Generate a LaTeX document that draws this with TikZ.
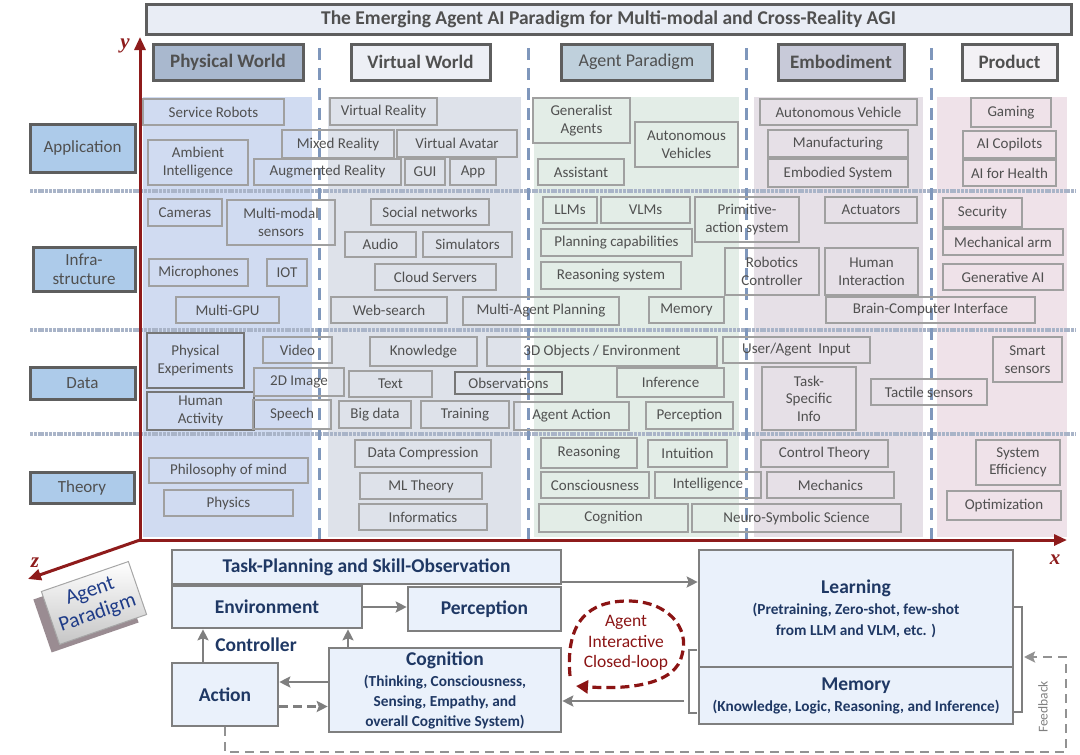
\documentclass[tikz,border=0pt]{standalone}
\usepackage{fontspec}
\setmainfont{Carlito}
\newfontfamily\axfont{Liberation Serif}
\usetikzlibrary{arrows.meta,calc}
\definecolor{axred}{HTML}{8E1B1B}
\definecolor{txtgray}{HTML}{505050}
\definecolor{navy}{HTML}{1F3864}
\definecolor{bdgray}{HTML}{5E5E5E}
\definecolor{itemgray}{HTML}{A0A0A0}
\definecolor{bgphys}{HTML}{D0DBF1}
\definecolor{bgvirt}{HTML}{DEE2EA}
\definecolor{bgagent}{HTML}{E3EDE7}
\definecolor{bgemb}{HTML}{E6E0E7}
\definecolor{bgprod}{HTML}{EFE2E9}
\definecolor{sepblue}{HTML}{7F97BC}
\definecolor{rowsep}{HTML}{A9B4C8}
\definecolor{labfill}{HTML}{ADCBEA}
\definecolor{boxfill}{HTML}{EAF1FB}
\definecolor{arrgray}{HTML}{7F7F7F}
\definecolor{loopred}{HTML}{8B1414}
\definecolor{titlefill}{HTML}{E9EDF5}
\definecolor{apblue}{HTML}{1F3C88}
\definecolor{hphysfill}{HTML}{A9B8CE}
\definecolor{hvirtfill}{HTML}{EDEFF5}
\definecolor{hagentfill}{HTML}{BFD0DC}
\definecolor{hembfill}{HTML}{C8CAD9}
\definecolor{hprodfill}{HTML}{F3F1F5}
\definecolor{apsidefill}{HTML}{9A8C92}
% box from (x1,y1) to (x2,y2) in picture pixels
\newcommand{\bx}[7][item]{%
  \pgfmathsetmacro\bxw{#5-#3}\pgfmathsetmacro\bxh{#6-#4}%
  \pgfmathsetmacro\bxcx{(#3+#5)/2}\pgfmathsetmacro\bxcy{(#4+#6)/2}%
  \node[#1, minimum width=\bxw pt, minimum height=\bxh pt] (#2) at (\bxcx,\bxcy) {#7};}
\newcommand{\ib}[6]{\bx[item]{#1}{#2}{#3}{#4}{#5}{#6}}
\newcommand{\ibd}[6]{\bx[itemd]{#1}{#2}{#3}{#4}{#5}{#6}}
\newcommand{\subt}[1]{{\fontsize{15.3}{18}\selectfont #1}}
\begin{document}
\begin{tikzpicture}[x=1pt,y=-1pt,
  item/.style={draw=itemgray, line width=1.1pt, inner sep=0pt, align=center, text=txtgray, font=\fontsize{15}{17.5}\selectfont},
  itemd/.style={item, draw=bdgray!85, line width=1.7pt},
  hdr/.style={draw=bdgray, line width=3pt, inner sep=0pt, text=txtgray, font=\fontsize{19}{21}\selectfont\bfseries},
  rowlab/.style={draw=bdgray, line width=3pt, fill=labfill, inner sep=0pt, align=center, text=txtgray, font=\fontsize{17}{19.5}\selectfont},
  bbox/.style={draw=arrgray, line width=2.6pt, fill=boxfill, inner sep=0pt, align=center, text=navy, font=\fontsize{19.5}{22}\selectfont\bfseries},
  arr/.style={draw=arrgray, line width=2.6pt, -{Stealth[length=11pt,width=11pt,inset=2pt]}},
  axis/.style={draw=axred, line width=3pt, -{Triangle[length=13pt,width=11pt]}},
  axlab/.style={text=axred, font=\axfont\fontsize{21}{21}\selectfont\bfseries\itshape}
]
\useasboundingbox (0,0) rectangle (1080,755);
% column backgrounds
\fill[bgphys] (143,97) rectangle (312,537);
\fill[bgvirt] (328,97) rectangle (521,537);
\fill[bgagent] (534,97) rectangle (739,537);
\fill[bgemb] (754,97) rectangle (923,537);
\fill[bgprod] (937,97) rectangle (1067,537);
% row separators
\foreach \yy in {191,330,434} \draw[rowsep, line width=4.5pt, dash pattern=on 3pt off 0.8pt] (30,\yy) -- (1076,\yy);
% vertical dashed separators
\foreach \xx in {319,528,746,931} \draw[sepblue, line width=3pt, dash pattern=on 12pt off 8pt] (\xx,48) -- (\xx,540);
% title
\bx[{draw=bdgray, line width=3pt, fill=titlefill, inner sep=0pt, text=txtgray, font=\fontsize{19.5}{21}\selectfont\bfseries}]{title}{146}{4}{1071}{34}{The Emerging Agent AI Paradigm for Multi-modal and Cross-Reality AGI}
% headers
\bx[{hdr, fill=hphysfill}]{hphys}{153}{44}{303}{80}{Physical World}
\bx[{hdr, fill=hvirtfill}]{hvirt}{351}{44}{490}{80}{Virtual World}
\bx[{hdr, fill=hagentfill, font=\fontsize{18}{20}\selectfont}]{hagent}{561}{44}{712}{80}{Agent Paradigm}
\bx[{hdr, fill=hembfill}]{hemb}{778}{44}{904}{80}{Embodiment}
\bx[{hdr, fill=hprodfill}]{hprod}{962}{44}{1057}{80}{Product}
% row labels
\bx[rowlab]{rapp}{30}{124}{135}{172}{Application}
\bx[rowlab]{rinf}{33}{247}{135}{291}{Infra-\\structure}
\bx[rowlab]{rdata}{30}{367}{135}{399}{Data}
\bx[rowlab]{rtheo}{30}{472}{134}{503}{Theory}
% Application
\ib{sr}{143}{99}{284}{125}{Service Robots}
\ib{ai}{148}{140}{248}{185}{Ambient\\Intelligence}
\ib{mr}{282}{130}{394}{158}{Mixed Reality}
\ib{vr}{330}{98}{437}{125}{Virtual Reality}
\ib{va}{397}{130}{517}{157}{Virtual Avatar}
\ib{ar}{254}{159}{401}{185}{Augmented Reality}
\ib{gui}{405}{159}{445}{185}{GUI}
\ib{app}{450}{159}{496}{185}{App}
\ib{ga}{533}{98}{630}{143}{Generalist\\Agents}
\ib{avs}{635}{122}{738}{167}{Autonomous\\Vehicles}
\ib{asst}{538}{159}{624}{185}{Assistant}
\ib{av}{760}{99}{917}{125}{Autonomous Vehicle}
\ib{mfg}{768}{130}{908}{157}{Manufacturing}
\ib{es}{768}{159}{908}{187}{Embodied System}
\ib{gam}{971}{98}{1051}{127}{Gaming}
\ib{cop}{963}{131}{1056}{158}{AI Copilots}
\ib{hea}{963}{160}{1056}{186}{AI for Health}
% Infrastructure
\ib{cam}{148}{199}{222}{226}{Cameras}
\ib{mms}{227}{200}{335}{245}{Multi-modal\\sensors}
\ib{mic}{149}{259}{248}{286}{Microphones}
\ib{iot}{267}{259}{307}{286}{IOT}
\ib{gpu}{176}{297}{279}{323}{Multi-GPU}
\ib{soc}{371}{199}{489}{225}{Social networks}
\ib{aud}{345}{232}{416}{257}{Audio}
\ib{sim}{423}{232}{512}{257}{Simulators}
\ib{cld}{375}{264}{496}{290}{Cloud Servers}
\ib{web}{331}{297}{447}{323}{Web-search}
\ib{map}{463}{297}{619}{325}{Multi-Agent Planning}
\ib{llm}{543}{197}{597}{223}{LLMs}
\ib{vlm}{601}{197}{690}{223}{VLMs}
\ib{plan}{541}{229}{692}{256}{Planning capabilities}
\ib{prim}{695}{197}{799}{242}{Primitive-\\action system}
\ib{actu}{825}{197}{917}{223}{Actuators}
\ib{rsys}{541}{262}{681}{289}{Reasoning system}
\ib{rob}{725}{248}{819}{295}{Robotics\\Controller}
\ib{hum}{825}{248}{918}{295}{Human\\Interaction}
\ib{imem}{649}{297}{724}{323}{Memory}
\ib{bci}{826}{297}{1035}{323}{Brain-Computer Interface}
\ib{sec}{943}{198}{1022}{227}{Security}
\ib{arm}{943}{229}{1063}{255}{Mechanical arm}
\ib{gen}{943}{264}{1063}{290}{Generative AI}
% Data
\ibd{pe}{147}{333}{244}{388}{Physical\\Experiments}
\ibd{ha}{147}{392}{254}{430}{Human\\Activity}
\ib{vid}{263}{337}{332}{363}{Video}
\ib{img}{254}{368}{344}{396}{2D Image}
\ib{sp}{253}{400}{331}{429}{Speech}
\ib{kn}{370}{337}{477}{366}{Knowledge}
\ib{txt}{349}{371}{432}{397}{Text}
\ib{bd}{339}{401}{411}{428}{Big data}
\ib{trn}{421}{401}{509}{428}{Training}
\ibd{obs}{455}{372}{562}{394}{Observations}
\ib{obj}{487}{337}{717}{366}{3D Objects / Environment}
\ib{aa}{514}{402}{629}{430}{Agent Action}
\ib{inf}{617}{368}{724}{397}{Inference}
\ib{iper}{646}{402}{733}{429}{Perception}
\ib{uai}{723}{337}{870}{363}{User/Agent\ \ Input}
\ib{tsi}{762}{367}{856}{430}{Task-\\Specific\\Info}
\ib{tac}{871}{379}{987}{405}{Tactile sensors}
\ib{sms}{993}{337}{1062}{382}{Smart\\sensors}
% Theory
\ib{phm}{149}{458}{308}{483}{Philosophy of mind}
\ib{phy}{164}{490}{293}{516}{Physics}
\ib{dc}{355}{440}{491}{467}{Data Compression}
\ib{mlt}{360}{473}{482}{499}{ML Theory}
\ib{infm}{359}{504}{487}{530}{Informatics}
\ib{rea}{541}{438}{637}{468}{Reasoning}
\ib{intu}{648}{440}{727}{467}{Intuition}
\ib{con}{541}{472}{649}{498}{Consciousness}
\ib{itl}{655}{472}{761}{498}{Intelligence}
\ib{icog}{539}{504}{688}{532}{Cognition}
\ib{nss}{692}{504}{901}{532}{Neuro-Symbolic Science}
\ib{ct}{761}{440}{888}{467}{Control Theory}
\ib{mec}{767}{472}{894}{498}{Mechanics}
\ib{se}{976}{440}{1060}{485}{System\\Efficiency}
\ib{opt}{947}{491}{1061}{520}{Optimization}
% axes
\coordinate (O) at (140,540);
\coordinate (ytip) at (140,37);
\coordinate (xtip) at (1067,540);
\coordinate (ztip) at (28,579);
\draw[axis] (140,542) -- (ytip);
\draw[axis] (138.5,540) -- (xtip);
\draw[axis] (O) -- (ztip);
\node[axlab] (ylab) at (125,46) {y};
\node[axlab] (xlab) at (1055,560) {x};
\node[axlab] (zlab) at (35,563) {z};
% agent paradigm 3D box
\node[rotate=19, fill=apsidefill, minimum width=92pt, minimum height=56pt] (apside) at (86,611) {};
\node[rotate=19, draw=gray!70, line width=1pt, top color=white, bottom color=gray!45, minimum width=92pt, minimum height=56pt, inner sep=0pt, align=center, text=apblue, font=\fontsize{21}{23}\selectfont] (ap) at (94,603) {Agent\\Paradigm};
% bottom boxes
\bx[bbox]{task}{172}{550}{561}{584}{Task-Planning and Skill-Observation}
\bx[bbox]{env}{172}{586}{362}{628}{Environment}
\bx[bbox]{perc}{408}{587}{561}{631}{Perception}
\bx[bbox]{action}{172}{663}{278}{726}{Action}
\bx[bbox]{cogn}{329}{648}{561}{732}{Cognition\\[-1pt]\subt{(Thinking, Consciousness,}\\[-2pt]\subt{Sensing, Empathy, and}\\[-2pt]\subt{overall Cognitive System)}}
\bx[bbox]{learn}{699}{550}{1013}{667}{Learning\\[-1pt]\subt{(Pretraining, Zero-shot, few-shot}\\[-1pt]\subt{from LLM and VLM, etc. )}}
\bx[bbox]{memo}{699}{667}{1013}{724}{Memory\\[-1pt]\subt{(Knowledge, Logic, Reasoning, and Inference)}}
\node[text=navy, font=\fontsize{19.5}{22}\selectfont\bfseries] (ctrl) at (256,645) {Controller};
% arrows
\draw[arr] (env.east) -- (env.east -| perc.west);
\coordinate (c1) at ($(action.north)+(-22,0)$);
\draw[arr] (c1) -- (c1 |- env.south);
\coordinate (c2) at ($(cogn.north)+(-97,0)$);
\draw[arr] (c2) -- (c2 |- env.south);
\coordinate (c3) at ($(cogn.west)+(0,-8)$);
\draw[arr] (c3) -- (c3 -| action.east);
\coordinate (c4) at ($(action.east)+(0,12)$);
\draw[arr, dash pattern=on 9pt off 5pt] (c4) -- (c4 -| cogn.west);
\coordinate (c5) at ($(task.east)+(0,15)$);
\draw[arr] (c5) -- (c5 -| learn.west);
% left bracket and arrow to cognition
\draw[arrgray, line width=2.6pt] (697,650) -- (689,650) -- (689,713) -- (697,713);
\coordinate (c6) at (684,701);
\draw[arr] (c6) -- (c6 -| cogn.east);
% right bracket
\draw[arrgray, line width=2.6pt] (1013,607) -- (1022,607) -- (1022,712) -- (1013,712);
% feedback loop
\coordinate (f1) at (action.south |- 0,752);
\coordinate (f2) at (1066,752);
\coordinate (f3) at (1066,657);
\coordinate (f4) at (1024,657);
\draw[arr, dash pattern=on 9pt off 6pt, draw=arrgray!85] (action.south) -- (f1) -- (f2) -- (f3) -- (f4);
\node[rotate=90, text=gray, font=\fontsize{13.5}{15}\selectfont] (fbl) at (1043,707) {Feedback};
% agent interactive closed loop
\draw[loopred, line width=3.2pt, dash pattern=on 9pt off 5pt, -{Triangle[length=12pt,width=13pt]}] (570,676) .. controls (565,620) and (590,601) .. (628,601) .. controls (668,601) and (690,628) .. (682,655) .. controls (676,684) and (630,690) .. (576,686);
\node[align=center, text=loopred, font=\fontsize{17.5}{20.5}\selectfont] (loop) at (626,643) {Agent\\Interactive\\Closed-loop};
\end{tikzpicture}
\end{document}
